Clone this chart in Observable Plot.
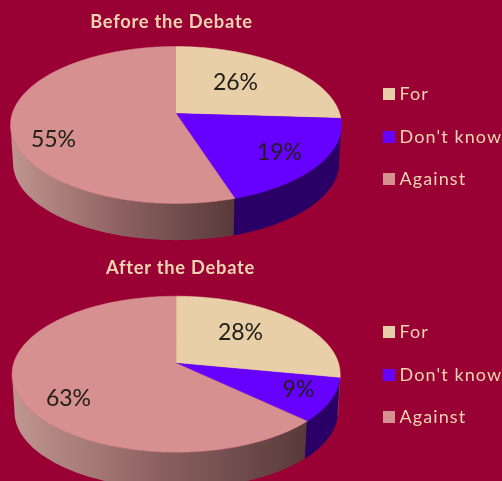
<!DOCTYPE html>
<html>
<head>
<meta charset="utf-8">
<script src="https://cdn.jsdelivr.net/npm/d3@7"></script>
<script src="https://cdn.jsdelivr.net/npm/@observablehq/plot@0.6"></script>
<style>
html,body{margin:0;padding:0;background:#990033;overflow:hidden}
svg{display:block;filter:blur(0.4px)}
.legend text{letter-spacing:1.1px}
.ptitle text{letter-spacing:.75px}
</style>
</head>
<body>
<script>
const categories = ["For", "Don't know", "Against"];
const before = [26, 19, 55];
const after = [28, 9, 63];
const titles = ["Before the Debate", "After the Debate"];
const topColors = ["#E8CFA8", "#6600FF", "#D69090"];
const sideColors = ["#A89070", "#2A0066", "url(#side0)"];

const layouts = [
  {values: before, cx: 175.5, cy: 113, A: 76.8, B: 163.7, k: 0.1465, depth: 38, title: [171, 22], legendY: [94, 137, 179],
   labels: [[235, 82], [279, 152], [53, 139]]},
  {values: after, cx: 175.6, cy: 362.7, A: 76.45, B: 162.4, k: 0.141, depth: 38, title: [180, 268], legendY: [332, 375, 417],
   labels: [[240, 332], [298, 389], [68, 398]]}
];

const STEP = Math.PI / 180;
function project(p, a, r = 1, lower = false) {
  const u = r * Math.sin(a), v = -r * Math.cos(a), d = 1 - p.k * v;
  let x = p.B * u / d, y = p.A * v / d;
  const s = lower ? 0.985 : 1;
  return {x: p.cx + x * s, y: p.cy + y * s + (lower ? p.depth : 0)};
}
function arcAngles(a0, a1) {
  const out = [];
  for (let a = a0; a < a1; a += STEP) out.push(a);
  out.push(a1);
  return out;
}

const faces = [], sides = [], gradSides = [], percent = [], swatches = [], heads = [];
layouts.forEach((p, pi) => {
  const arcs = d3.pie().sort(null)(p.values);
  const edge = Math.asin(p.k);
  const vis0 = Math.PI / 2 + edge, vis1 = 3 * Math.PI / 2 - edge;
  arcs.forEach((arc, i) => {
    const key = `${pi}-${i}`;
    const color = topColors[i];
    faces.push({...project(p, 0, 0), key, color});
    arcAngles(arc.startAngle, arc.endAngle).forEach(a => faces.push({...project(p, a), key, color}));
    const s0 = Math.max(arc.startAngle, vis0), s1 = Math.min(arc.endAngle, vis1);
    if (s1 > s0) {
      const angles = arcAngles(s0, s1);
      const band = [...angles.map(a => project(p, a)), ...angles.slice().reverse().map(a => project(p, a, 1, true))];
      if (i === 2) band.forEach(b => gradSides.push({...b, key, pi}));
      else band.forEach(b => sides.push({...b, key, color: sideColors[i]}));
    }
    percent.push({x: p.labels[i][0], y: p.labels[i][1], text: p.values[i] + "%"});
    swatches.push({y: p.legendY[i], color, name: categories[i]});
  });
  heads.push({x: p.title[0], y: p.title[1], text: titles[pi]});
});

const defs = () => {
  const d = d3.create("svg:defs");
  ["side0", "side1"].forEach(id => {
    const g = d.append("linearGradient").attr("id", id).attr("x1", 0).attr("x2", 1).attr("y1", 0).attr("y2", 0);
    g.append("stop").attr("offset", 0).attr("stop-color", "#C09690");
    g.append("stop").attr("offset", 0.5).attr("stop-color", "#8C6060");
    g.append("stop").attr("offset", 1).attr("stop-color", "#583A3A");
  });
  return d.node();
};

const font = "Lato, 'Open Sans', sans-serif";
const chart = Plot.plot({
  width: 502,
  height: 481,
  margin: 0,
  style: {background: "#990033", fontFamily: font},
  x: {domain: [0, 502], range: [0, 502], axis: null},
  y: {domain: [0, 481], range: [0, 481], axis: null},
  color: {type: "identity"},
  marks: [
    defs,
    Plot.line(gradSides.filter(d => d.pi === 0), {x: "x", y: "y", z: "key", fill: "url(#side0)", stroke: "none"}),
    Plot.line(gradSides.filter(d => d.pi === 1), {x: "x", y: "y", z: "key", fill: "url(#side1)", stroke: "none"}),
    Plot.line(sides, {x: "x", y: "y", z: "key", fill: "color", stroke: "color", strokeWidth: 0.5}),
    Plot.line(faces, {x: "x", y: "y", z: "key", fill: "color", stroke: "color", strokeWidth: 0.5}),
    Plot.text(percent, {x: "x", y: "y", text: "text", fill: "#222018", fontSize: 23, fontFamily: font}),
    Plot.text(heads, {x: "x", y: "y", text: "text", fill: "#EFD5B0", fontSize: 18.3, fontWeight: "bold", fontFamily: font, className: "ptitle"}),
    Plot.rect(swatches, {x1: () => 383, x2: () => 395, y1: d => d.y - 6, y2: d => d.y + 6, fill: "color"}),
    Plot.text(swatches, {x: () => 399, y: "y", text: "name", textAnchor: "start", fill: "#EFD5B0", fontSize: 18, fontFamily: font, className: "legend"})
  ]
});
document.body.appendChild(chart);
</script>
</body>
</html>
